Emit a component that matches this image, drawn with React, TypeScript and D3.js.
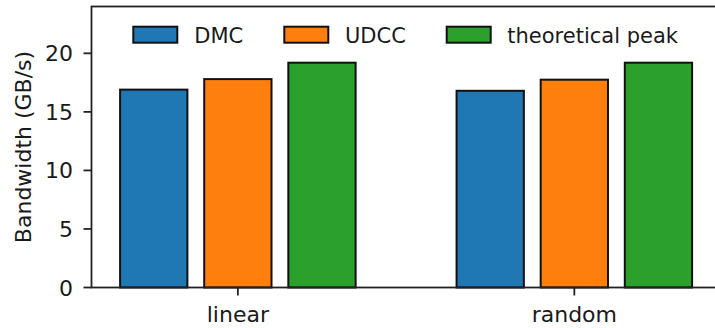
import React from "react";
import * as d3 from "d3";

// Access patterns on the x axis
const categories = ["linear", "random"];
// Series (legend order)
const seriesNames = ["DMC", "UDCC", "theoretical peak"];
const dmcValues = [16.9, 16.8];
const udccValues = [17.8, 17.75];
const peakValues = [19.2, 19.2];
const yTicks = [0, 5, 10, 15, 20];
const yLabel = "Bandwidth (GB/s)";

const colors = ["#1f77b4", "#ff7f0e", "#2ca02c"];
const seriesValues = [dmcValues, udccValues, peakValues];

const W = 715;
const H = 328;
const FONT = "DejaVu Sans, sans-serif";
const TEXT = "#1a1a1a";

const plotLeft = 91.5;
const plotRight = 720.7;
const plotTop = 6.5;
const plotBottom = 287.5;

const barWidth = 0.2;
const barStep = 0.25;

export default function App() {
  const x = d3.scaleLinear().domain([-0.435, 1.435]).range([plotLeft, plotRight]);
  const y = d3.scaleLinear().domain([0, 24]).range([plotBottom, plotTop]);

  // Legend layout: handle box, then label, in one row
  const legendItems = [
    { hx: 133.3, tx: 194.3 },
    { hx: 284.3, tx: 345 },
    { hx: 446.7, tx: 507.3 },
  ];

  return (
    <svg
      width={W}
      height={H}
      style={{ position: "fixed", left: 0, top: 0, background: "#fff" }}
      fontFamily={FONT}
    >
      {/* bars */}
      {seriesValues.map((vals, si) =>
        vals.map((v, ci) => {
          const offset = (si - 1) * barStep;
          const x0 = x(ci + offset - barWidth / 2);
          const x1 = x(ci + offset + barWidth / 2);
          return (
            <rect
              key={`${si}-${ci}`}
              x={x0}
              y={y(v)}
              width={x1 - x0}
              height={y(0) - y(v)}
              fill={colors[si]}
              stroke="#111"
              strokeWidth={2}
            />
          );
        })
      )}

      {/* axes frame */}
      <rect
        x={plotLeft}
        y={plotTop}
        width={plotRight - plotLeft}
        height={plotBottom - plotTop}
        fill="none"
        stroke="#222"
        strokeWidth={1.8}
      />

      {/* y ticks */}
      {yTicks.map((t) => (
        <g key={t}>
          <line x1={plotLeft - 8} x2={plotLeft} y1={y(t)} y2={y(t)} stroke="#222" strokeWidth={1.8} />
          <text x={73} y={y(t) + 8} textAnchor="end" fontSize={22} fill={TEXT}>
            {t}
          </text>
        </g>
      ))}

      {/* x ticks */}
      {categories.map((c, i) => (
        <g key={c}>
          <line x1={x(i)} x2={x(i)} y1={plotBottom} y2={plotBottom + 8} stroke="#222" strokeWidth={1.8} />
          <text x={x(i)} y={321.7} textAnchor="middle" fontSize={22} fill={TEXT}>
            {c}
          </text>
        </g>
      ))}

      {/* y axis label */}
      <text
        transform={`translate(31, ${(plotTop + plotBottom) / 2}) rotate(-90)`}
        textAnchor="middle"
        fontSize={22}
        fill={TEXT}
      >
        {yLabel}
      </text>

      {/* legend */}
      {seriesNames.map((name, i) => (
        <g key={name}>
          <rect
            x={legendItems[i].hx}
            y={26.7}
            width={44}
            height={16}
            fill={colors[i]}
            stroke="#111"
            strokeWidth={2}
          />
          <text x={legendItems[i].tx} y={42.5} fontSize={21} fill={TEXT}>
            {name}
          </text>
        </g>
      ))}
    </svg>
  );
}
